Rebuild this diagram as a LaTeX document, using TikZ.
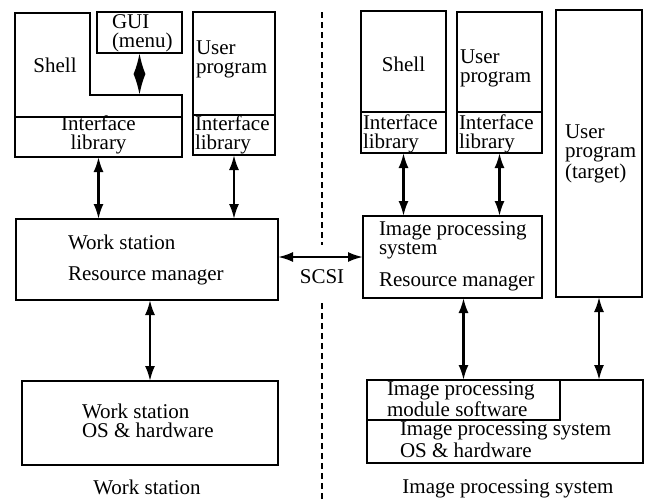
\documentclass[tikz,border=0pt]{standalone}
\usepackage{fontspec}
\setmainfont{Liberation Serif}
\usetikzlibrary{arrows.meta}
\begin{document}
\begin{tikzpicture}[x=1pt,y=-1pt,
 every node/.style={font=\fontsize{21}{19}\selectfont, inner sep=0pt, outer sep=0pt},
 box/.style={draw, line width=2.2pt, anchor=north west},
 lbl/.style={anchor=base west, align=left},
 clbl/.style={anchor=base, align=center},
 dbl/.style={{Latex[length=15pt,width=10pt]}-{Latex[length=15pt,width=10pt]}, line width=2.2pt},
 gdbl/.style={{Latex[length=21pt,width=12pt]}-{Latex[length=21pt,width=12pt]}, line width=2.2pt},
 sep/.style={line width=2.2pt, dash pattern=on 6pt off 4pt}
 ]
\useasboundingbox (0,0) rectangle (650,499);

% ---------- left: work station ----------
\draw[line width=2.2pt] (15,13) -- (90,13) -- (90,95) -- (182,95) -- (182,157) -- (15,157) -- cycle;
\coordinate (notch) at (139.5,95);
\node[box, minimum width=167pt, minimum height=40pt] (shlib) at (15,117) {};
\node[box, minimum width=85pt, minimum height=41pt] (gui) at (97,12) {};
\node[box, minimum width=82pt, minimum height=143pt] (uprog) at (193,12) {};
\node[box, minimum width=82pt, minimum height=40pt] (uplib) at (193,115) {};
\node[box, minimum width=262pt, minimum height=81pt] (wsrm) at (16,219) {};
\node[box, minimum width=256pt, minimum height=84pt] (wsos) at (22,381) {};

\node[clbl] (tshell) at (55,72) {Shell};
\node[lbl] (tgui) at (112,47) {GUI\\(menu)};
\node[clbl] (tshlib) at (98.5,149) {Interface\\library};
\node[lbl] (tuprog) at (196,73) {User\\program};
\node[lbl] (tuplib) at (195,149.5) {Interface\\library};
\node[lbl] (twsrm) at (68,280) {Work station\\[12pt]Resource manager};
\node[lbl] (twsos) at (82,437) {Work station\\OS \& hardware};
\node[clbl] (capl) at (147,494) {Work station};

% ---------- right: image processing system ----------
\node[box, minimum width=85pt, minimum height=142pt] (rshell) at (361,11) {};
\node[box, minimum width=85pt, minimum height=41pt] (rshlib) at (361,112) {};
\node[box, minimum width=85pt, minimum height=141pt] (ruprog) at (457,12) {};
\node[box, minimum width=85pt, minimum height=41pt] (ruplib) at (457,112) {};
\node[box, minimum width=86pt, minimum height=287pt] (target) at (556,10) {};
\node[box, minimum width=179pt, minimum height=82pt] (ipsrm) at (363,216) {};
\node[box, minimum width=276pt, minimum height=83pt] (ipsos) at (367,380) {};
\node[box, minimum width=193pt, minimum height=40pt] (module) at (367,380) {};

\node[clbl] (trshell) at (403.5,71) {Shell};
\node[lbl] (truprog) at (460,82) {User\\program};
\node[lbl] (trshlib) at (363,148) {Interface\\library};
\node[lbl] (truplib) at (459,148) {Interface\\library};
\node[lbl] (ttarget) at (565,178) {User\\program\\(target)};
\node[lbl] (tipsrm) at (379,286) {Image processing\\system\\[12.5pt]Resource manager};
\node[lbl] (tmodule) at (387,416) {Image processing\\module software};
\node[lbl] (tipsos) at (400,457) {Image processing system\\[1pt]OS \& hardware};
\node[clbl] (capr) at (508,493) {Image processing system};

% ---------- separator ----------
\draw[sep] (322,12) -- (322,245);
\draw[sep] (322,303) -- (322,499);
\node[clbl] (scsi) at (322,283) {SCSI};

% ---------- connectors ----------
\draw[gdbl] (gui.south) -- (notch);
\draw[dbl] (shlib.south) -- (wsrm.north -| shlib.south);
\draw[dbl] (uplib.south) -- (wsrm.north -| uplib.south);
\draw[dbl] (wsrm.east |- ipsrm.west) -- (ipsrm.west);
\draw[dbl] (wsos.north |- wsrm.south) -- (wsos.north);
\draw[dbl] (rshlib.south) -- (ipsrm.north -| rshlib.south);
\draw[dbl] (ruplib.south) -- (ipsrm.north -| ruplib.south);
\draw[dbl] (module.north |- ipsrm.south) -- (module.north);
\draw[dbl] (target.south) -- (ipsos.north -| target.south);
\end{tikzpicture}
\end{document}
